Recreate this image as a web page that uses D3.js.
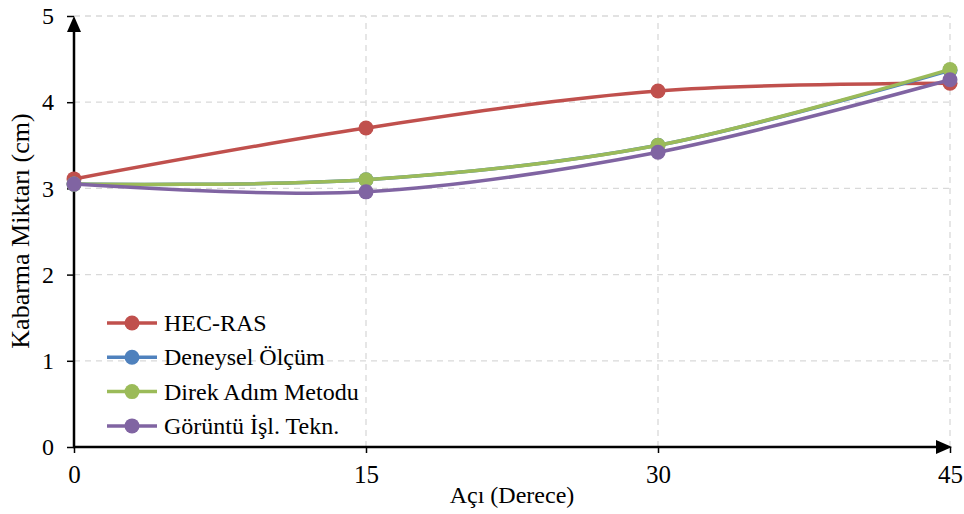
<!DOCTYPE html>
<html><head><meta charset="utf-8">
<script src="https://cdn.jsdelivr.net/npm/d3@7"></script>
<style>body{margin:0;background:#fff}svg{display:block}</style>
</head><body>
<svg id="c" width="964" height="514"></svg>
<script>
const angles = [0, 15, 30, 45];
const hecRas = [3.11, 3.70, 4.13, 4.22];
const deneysel = [3.05, 3.10, 3.50, 4.37];
const direkAdim = [3.05, 3.10, 3.50, 4.38];
const goruntu = [3.05, 2.96, 3.42, 4.26];
const xTicks = [0, 15, 30, 45];
const yTicks = [0, 1, 2, 3, 4, 5];
const seriesNames = ["HEC-RAS", "Deneysel Ölçüm", "Direk Adım Metodu", "Görüntü İşl. Tekn."];
const seriesColors = ["#C0504D", "#4F81BD", "#9BBB59", "#8064A2"];
const seriesValues = [hecRas, deneysel, direkAdim, goruntu];

const FONT = "Liberation Serif";
const svg = d3.select("#c");
const x = d3.scaleLinear().domain([0, 45]).range([74, 950]);
const y = d3.scaleLinear().domain([0, 5]).range([447, 16]);

// grid
const g = svg.append("g");
g.selectAll("line.h").data(yTicks.filter(d => d > 0)).join("line")
  .attr("x1", x(0)).attr("x2", x(45)).attr("y1", d => y(d)).attr("y2", d => y(d))
  .attr("stroke", "#d9d9d9").attr("stroke-width", 1.3).attr("stroke-dasharray", "6,5");
g.selectAll("line.v").data(xTicks.filter(d => d > 0)).join("line")
  .attr("y1", y(0)).attr("y2", y(5)).attr("x1", d => x(d)).attr("x2", d => x(d))
  .attr("stroke", "#d9d9d9").attr("stroke-width", 1.3).attr("stroke-dasharray", "6,5");

// axes
const yAxis = d3.axisLeft(y).tickValues(yTicks).tickFormat(d3.format("d")).tickSize(7).tickPadding(13);
const ya = svg.append("g").attr("transform", `translate(${x(0)},0)`).call(yAxis)
  .attr("font-family", FONT).attr("font-size", 24);
ya.select(".domain").remove();
ya.selectAll("line").attr("stroke", "#000").attr("stroke-width", 1.5);
ya.selectAll("text").attr("fill", "#000");

const xAxis = d3.axisBottom(x).tickValues(xTicks).tickFormat(d3.format("d")).tickSize(6).tickPadding(12);
const xa = svg.append("g").attr("transform", `translate(0,${y(0)})`).call(xAxis)
  .attr("font-family", FONT).attr("font-size", 25);
xa.select(".domain").remove();
xa.selectAll("line").attr("stroke", "#000").attr("stroke-width", 1.5);
xa.selectAll("text").attr("fill", "#000");

// axis lines with arrows
svg.append("line").attr("x1", x(0)).attr("x2", x(0)).attr("y1", y(0) + 1).attr("y2", y(5) + 10)
  .attr("stroke", "#000").attr("stroke-width", 2.5);
svg.append("path").attr("d", `M${x(0)},${y(5)} L${x(0) - 7},${y(5) + 16} L${x(0) + 7},${y(5) + 16} Z`).attr("fill", "#000");
svg.append("line").attr("x1", x(0) - 1).attr("x2", x(45) - 8).attr("y1", y(0)).attr("y2", y(0))
  .attr("stroke", "#000").attr("stroke-width", 2.5);
svg.append("path").attr("d", `M${x(45) + 2},${y(0)} L${x(45) - 14},${y(0) - 7} L${x(45) - 14},${y(0) + 7} Z`).attr("fill", "#000");

// series
const line = d3.line().x(d => x(d[0])).y(d => y(d[1])).curve(d3.curveCatmullRom.alpha(0));
seriesValues.forEach((vals, i) => {
  const pts = angles.map((a, k) => [a, vals[k]]);
  const sg = svg.append("g");
  sg.append("path").attr("d", line(pts)).attr("fill", "none")
    .attr("stroke", seriesColors[i]).attr("stroke-width", 3.5);
  sg.selectAll("circle").data(pts).join("circle")
    .attr("cx", d => x(d[0])).attr("cy", d => y(d[1])).attr("r", 7.5)
    .attr("fill", seriesColors[i]);
});

// legend
const lg = svg.append("g");
seriesNames.forEach((n, i) => {
  const yy = 323 + i * 34.3;
  lg.append("line").attr("x1", 107).attr("x2", 157).attr("y1", yy).attr("y2", yy)
    .attr("stroke", seriesColors[i]).attr("stroke-width", 3.5);
  lg.append("circle").attr("cx", 132).attr("cy", yy).attr("r", 7.5).attr("fill", seriesColors[i]);
  lg.append("text").attr("x", 164).attr("y", yy + 8).attr("font-family", FONT)
    .attr("font-size", 24).attr("fill", "#000").text(n);
});

// axis titles
svg.append("text").attr("x", x(22.5)).attr("y", 503).attr("text-anchor", "middle")
  .attr("font-family", FONT).attr("font-size", 24).attr("fill", "#000").text("Açı (Derece)");
svg.append("text").attr("transform", `translate(29,231) rotate(-90)`).attr("text-anchor", "middle")
  .attr("font-family", FONT).attr("font-size", 26).attr("fill", "#000").text("Kabarma Miktarı (cm)");
</script>
</body></html>
